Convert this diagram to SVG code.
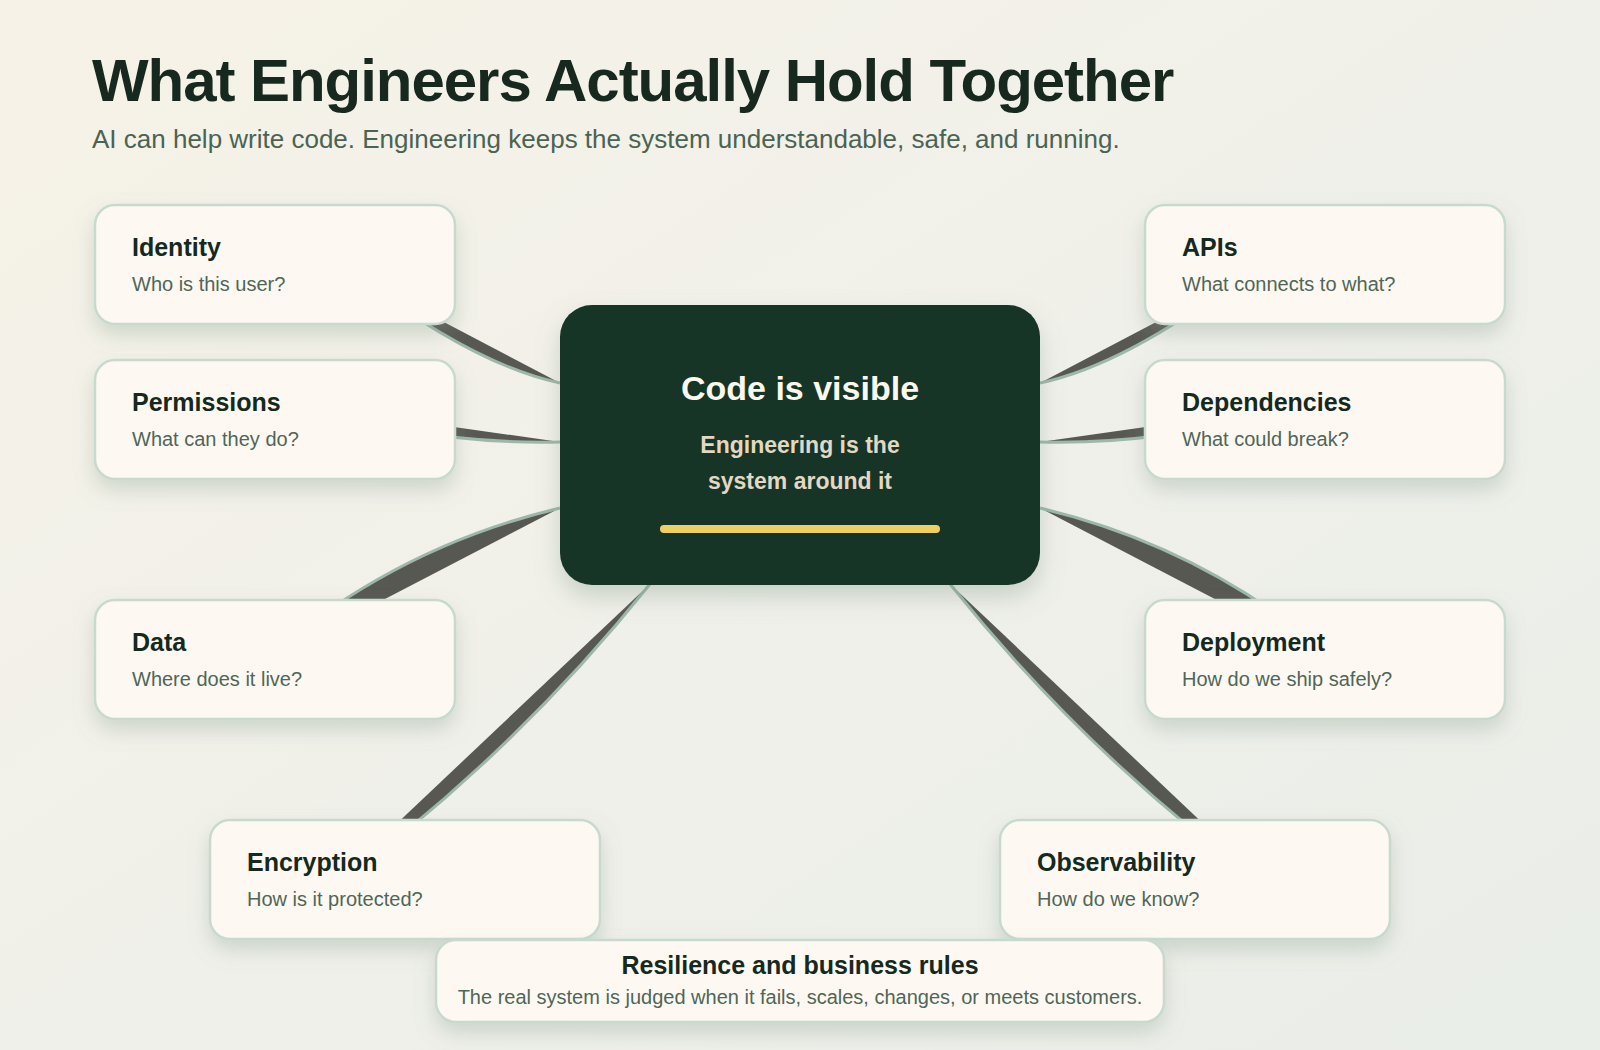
<svg xmlns="http://www.w3.org/2000/svg" width="1600" height="1050" viewBox="0 0 1600 1050">
  <defs>
    <linearGradient id="bg" x1="0" y1="0" x2="1" y2="1">
      <stop offset="0" stop-color="#f6f2e7"/>
      <stop offset="0.5" stop-color="#f0f0ea"/>
      <stop offset="1" stop-color="#eaeee8"/>
    </linearGradient>
    <filter id="shadow" x="-20%" y="-20%" width="140%" height="160%">
      <feDropShadow dx="0" dy="10" stdDeviation="10" flood-color="#7f9886" flood-opacity="0.3"/>
    </filter>
    <filter id="shadowC" x="-20%" y="-20%" width="140%" height="160%">
      <feDropShadow dx="0" dy="12" stdDeviation="12" flood-color="#6f8a77" flood-opacity="0.3"/>
    </filter>
  </defs>
  <style>
    .conn path { fill: #585853; stroke: #9db7a9; stroke-width: 3; }
    .card { fill: #fdf9f2; stroke: #c8d9ce; stroke-width: 2.5; filter: url(#shadow); }
    .ntitle { font-family: "Liberation Sans", Arial, sans-serif; font-weight: 700; font-size: 25px; fill: #15291e; }
    .nsub { font-family: "Liberation Sans", Arial, sans-serif; font-size: 20px; fill: #4f6658; }
  </style>

  <rect x="0" y="0" width="1600" height="1050" fill="url(#bg)"/>

  <text x="92" y="101" font-family="Liberation Sans, Arial, sans-serif" font-weight="700" font-size="60" letter-spacing="-1.05" fill="#17281f">What Engineers Actually Hold Together</text>
  <text x="92" y="148" font-family="Liberation Sans, Arial, sans-serif" font-size="26" fill="#4b6353">AI can help write code. Engineering keeps the system understandable, safe, and running.</text>

  <g id="connectors" class="conn">
    <path d="M 560 383 Q 475 365 360 278"/>
    <path d="M 560 442 Q 430 445 300 405"/>
    <path d="M 560 508 Q 391 548 260 664"/>
    <path d="M 650 584 Q 505 765 316 900"/>
    <path d="M 1040 383 Q 1125 365 1240 278"/>
    <path d="M 1040 442 Q 1170 445 1300 405"/>
    <path d="M 1040 508 Q 1209 548 1340 664"/>
    <path d="M 950 584 Q 1095 765 1284 900"/>
  </g>

  <g id="center">
    <rect x="560" y="305" width="480" height="280" rx="32" fill="#193427" filter="url(#shadowC)"/>
    <text x="800" y="400" text-anchor="middle" font-family="Liberation Sans, Arial, sans-serif" font-weight="700" font-size="34" fill="#fdf8ee">Code is visible</text>
    <text x="800" y="453" text-anchor="middle" font-family="Liberation Sans, Arial, sans-serif" font-weight="700" font-size="23" fill="#e2d8c3">Engineering is the</text>
    <text x="800" y="489" text-anchor="middle" font-family="Liberation Sans, Arial, sans-serif" font-weight="700" font-size="23" fill="#e2d8c3">system around it</text>
    <rect x="660" y="525" width="280" height="8" rx="4" fill="#eecf63"/>
  </g>

  <g id="identity">
    <rect class="card" x="95" y="205" width="360" height="119" rx="20"/>
    <text class="ntitle" x="132" y="256">Identity</text>
    <text class="nsub" x="132" y="291">Who is this user?</text>
  </g>
  <g id="permissions">
    <rect class="card" x="95" y="360" width="360" height="119" rx="20"/>
    <text class="ntitle" x="132" y="411">Permissions</text>
    <text class="nsub" x="132" y="446">What can they do?</text>
  </g>
  <g id="data">
    <rect class="card" x="95" y="600" width="360" height="119" rx="20"/>
    <text class="ntitle" x="132" y="651">Data</text>
    <text class="nsub" x="132" y="686">Where does it live?</text>
  </g>
  <g id="encryption">
    <rect class="card" x="210" y="820" width="390" height="119" rx="20"/>
    <text class="ntitle" x="247" y="871">Encryption</text>
    <text class="nsub" x="247" y="906">How is it protected?</text>
  </g>
  <g id="apis">
    <rect class="card" x="1145" y="205" width="360" height="119" rx="20"/>
    <text class="ntitle" x="1182" y="256">APIs</text>
    <text class="nsub" x="1182" y="291">What connects to what?</text>
  </g>
  <g id="dependencies">
    <rect class="card" x="1145" y="360" width="360" height="119" rx="20"/>
    <text class="ntitle" x="1182" y="411">Dependencies</text>
    <text class="nsub" x="1182" y="446">What could break?</text>
  </g>
  <g id="deployment">
    <rect class="card" x="1145" y="600" width="360" height="119" rx="20"/>
    <text class="ntitle" x="1182" y="651">Deployment</text>
    <text class="nsub" x="1182" y="686">How do we ship safely?</text>
  </g>
  <g id="observability">
    <rect class="card" x="1000" y="820" width="390" height="119" rx="20"/>
    <text class="ntitle" x="1037" y="871">Observability</text>
    <text class="nsub" x="1037" y="906">How do we know?</text>
  </g>
  <g id="resilience">
    <rect class="card" x="436" y="940" width="728" height="82" rx="20" fill="#fdfbf5"/>
    <text class="ntitle" x="800" y="974" text-anchor="middle" font-size="24">Resilience and business rules</text>
    <text class="nsub" x="800" y="1004" text-anchor="middle">The real system is judged when it fails, scales, changes, or meets customers.</text>
  </g>
</svg>
